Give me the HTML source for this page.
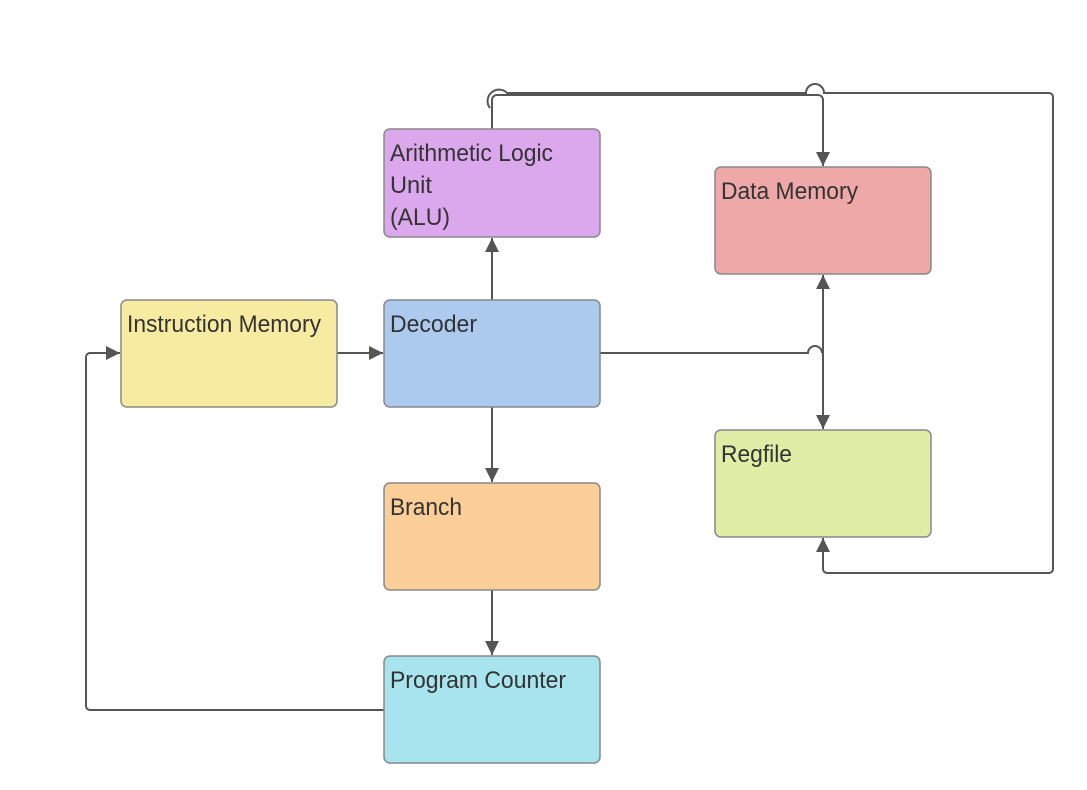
<!DOCTYPE html>
<html><head><meta charset="utf-8"><style>
html,body{margin:0;padding:0;background:#fff;}
svg{display:block;}
text{font-family:"Liberation Sans",sans-serif;font-size:24px;fill:#333;}
</style></head><body>
<svg width="1087" height="790" viewBox="0 0 1087 790" xmlns="http://www.w3.org/2000/svg">
<defs>
<marker id="a" viewBox="0 0 10 10" refX="10" refY="5" markerWidth="14" markerHeight="14" markerUnits="userSpaceOnUse" orient="auto">
<path d="M0,0 L10,5 L0,10 z" fill="#555"/></marker>
</defs>
<g fill="none" stroke="#555" stroke-width="2">
<line x1="337" y1="353" x2="383" y2="353" marker-end="url(#a)"/>
<line x1="492" y1="300" x2="492" y2="238" marker-end="url(#a)"/>
<line x1="492" y1="407" x2="492" y2="482" marker-end="url(#a)"/>
<line x1="492" y1="590" x2="492" y2="655" marker-end="url(#a)"/>
<path d="M384,710 H90 a4,4 0 0 1 -4,-4 V357 a4,4 0 0 1 4,-4 H120" marker-end="url(#a)"/>
<path d="M600,353 H808 a7,7 0 0 1 14,0"/>
<line x1="823" y1="353" x2="823" y2="275" marker-end="url(#a)"/>
<line x1="823" y1="353" x2="823" y2="429" marker-end="url(#a)"/>
<path d="M492,129 V100 a5,5 0 0 1 5,-5 H818 a5,5 0 0 1 5,5 V166" marker-end="url(#a)"/>
<path d="M490,108 a10,10 0 0 1 18,-14"/>
<path d="M508,93 H806 a8,8 0 0 1 18,0 H1049 a4,4 0 0 1 4,4 V569 a4,4 0 0 1 -4,4 H827 a4,4 0 0 1 -4,-4 V538" marker-end="url(#a)"/>
</g>
<g stroke="#888" stroke-width="1.5">
<rect x="384" y="129" width="216" height="108" rx="6" fill="#dba8ed"/>
<rect x="715" y="167" width="216" height="107" rx="6" fill="#eea8a8"/>
<rect x="121" y="300" width="216" height="107" rx="6" fill="#f7eba1"/>
<rect x="384" y="300" width="216" height="107" rx="6" fill="#abcaee"/>
<rect x="715" y="430" width="216" height="107" rx="6" fill="#dfeda7"/>
<rect x="384" y="483" width="216" height="107" rx="6" fill="#fccf99"/>
<rect x="384" y="656" width="216" height="107" rx="6" fill="#a8e4ed"/>
</g>
<text x="390" y="161" textLength="163" lengthAdjust="spacingAndGlyphs">Arithmetic Logic</text>
<text x="390" y="193" textLength="42" lengthAdjust="spacingAndGlyphs">Unit</text>
<text x="390" y="225" textLength="60" lengthAdjust="spacingAndGlyphs">(ALU)</text>
<text x="721" y="199" textLength="137" lengthAdjust="spacingAndGlyphs">Data Memory</text>
<text x="127" y="332" textLength="194" lengthAdjust="spacingAndGlyphs">Instruction Memory</text>
<text x="390" y="332" textLength="87" lengthAdjust="spacingAndGlyphs">Decoder</text>
<text x="721" y="462" textLength="71" lengthAdjust="spacingAndGlyphs">Regfile</text>
<text x="390" y="515" textLength="72" lengthAdjust="spacingAndGlyphs">Branch</text>
<text x="390" y="688" textLength="176" lengthAdjust="spacingAndGlyphs">Program Counter</text>
</svg>
</body></html>
